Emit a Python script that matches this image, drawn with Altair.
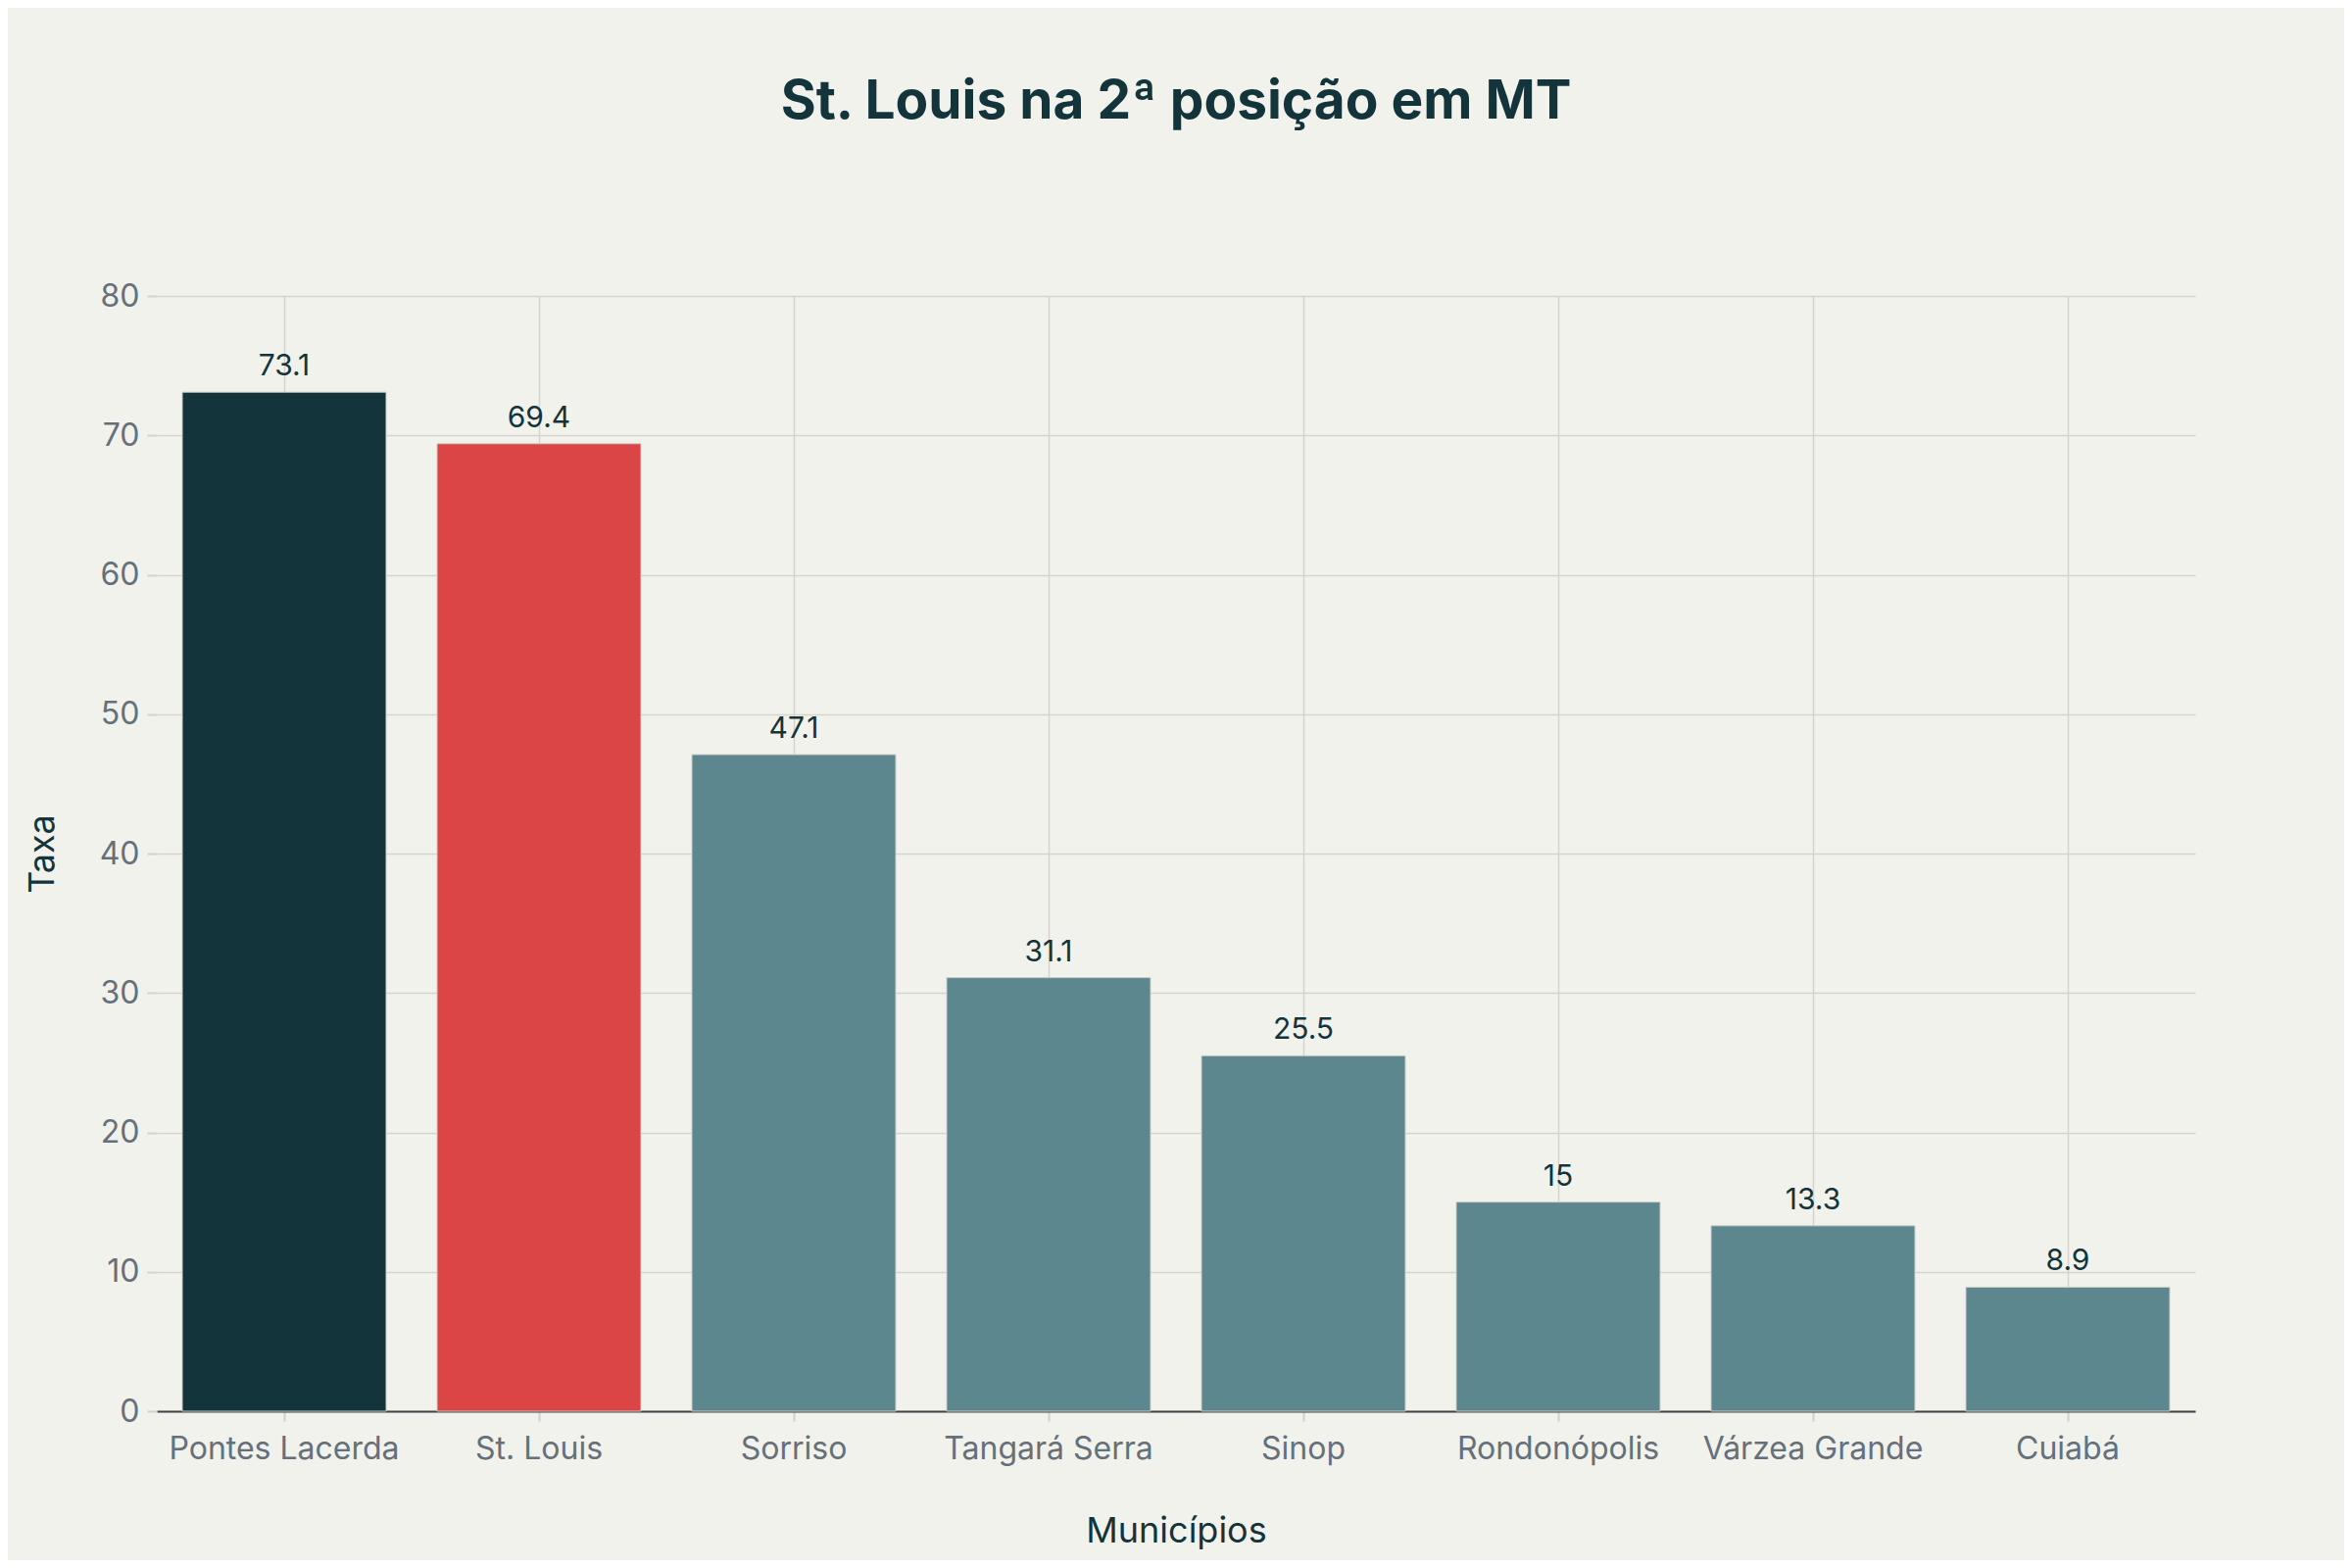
import altair as alt
import pandas as pd

# values
municipios = ['Pontes Lacerda', 'St. Louis', 'Sorriso', 'Tangará Serra',
              'Sinop', 'Rondonópolis', 'Várzea Grande', 'Cuiabá']
taxa = [73.1, 69.4, 47.1, 31.1, 25.5, 15, 13.3, 8.9]
grupo = ['top', 'destaque', 'outros', 'outros', 'outros', 'outros', 'outros', 'outros']

df = pd.DataFrame({'Municipio': municipios, 'Taxa': taxa, 'Grupo': grupo})

dark = '#13343B'
bg = '#F2F2ED'
font = 'Inter'

base = alt.Chart(df).encode(
    x=alt.X('Municipio:N', sort=municipios, title='Municípios',
            scale=alt.Scale(paddingInner=0.2),
            axis=alt.Axis(labelAngle=0, labelFontSize=32, labelColor='#65707A',
                          labelFont=font, labelPadding=13, labelLimit=0,
                          tickSize=10, tickColor='#D0CECA', tickWidth=2,
                          domainColor='#3F4446', domainWidth=2,
                          grid=True, gridColor='#D6D3CE', gridWidth=1.5,
                          titleFontSize=36, titleFont=font, titleFontWeight='normal',
                          titleColor=dark, titleY=133, titleBaseline='alphabetic')),
    y=alt.Y('Taxa:Q', title='Taxa',
            scale=alt.Scale(domain=[0, 80], nice=False),
            axis=alt.Axis(values=[0, 10, 20, 30, 40, 50, 60, 70, 80],
                          labelFontSize=32, labelColor='#65707A', labelFont=font,
                          labelPadding=8, tickSize=10, tickColor='#D6D3CE', tickWidth=2,
                          domain=False, grid=True, gridColor='#D6D3CE', gridWidth=1.5,
                          titleFontSize=36, titleFont=font, titleFontWeight='normal',
                          titleColor=dark, titleX=-117, titleBaseline='middle',
                          titleAngle=-90)),
)

bars = base.mark_bar(stroke='#D0CCC6', strokeWidth=1).encode(
    color=alt.Color('Grupo:N', legend=None,
                    scale=alt.Scale(domain=['top', 'destaque', 'outros'],
                                    range=[dark, '#DB4545', '#5D878F']))
)

labels = base.mark_text(baseline='alphabetic', dy=-17, fontSize=30,
                        font=font, color=dark).encode(text=alt.Text('Taxa:Q'))

chart = (bars + labels).properties(
    width=2080,
    height=1138,
    autosize=alt.AutoSizeParams(type='none'),
    padding={'left': 152, 'top': 294, 'right': 152, 'bottom': 152},
    background=bg,
    title=alt.Title('St. Louis na 2ª posição em MT', fontSize=55, font=font,
                    fontWeight='bold', color=dark, anchor='middle',
                    baseline='alphabetic', offset=110),
).configure_view(stroke=None)

chart.save('out.html', embed_options={'renderer': 'svg', 'actions': False})
